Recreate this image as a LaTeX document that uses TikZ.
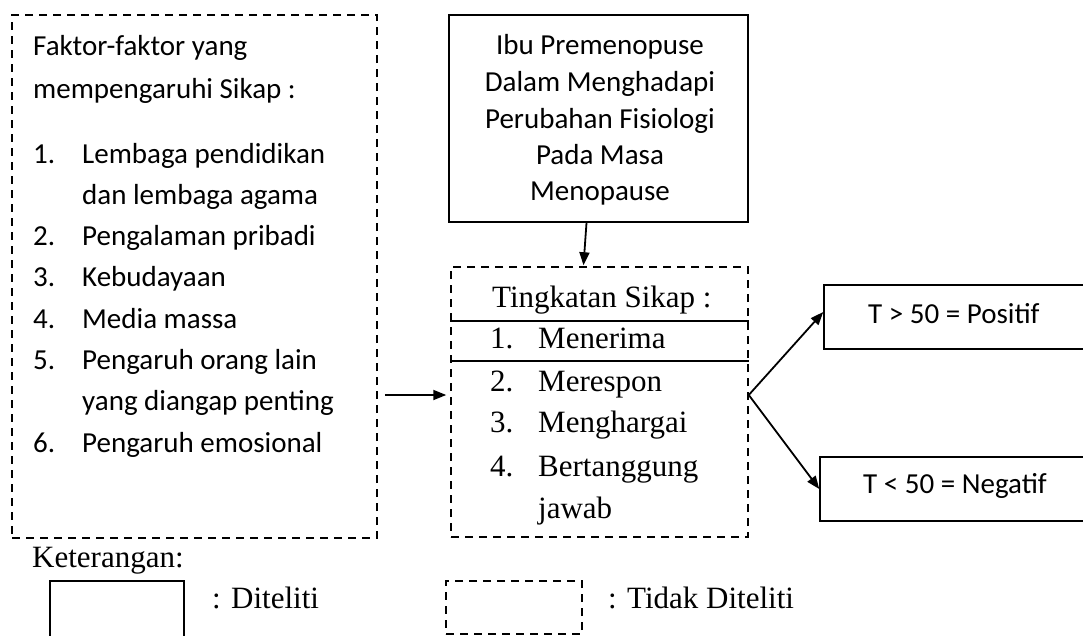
\documentclass[tikz,border=0pt]{standalone}
\usepackage{fontspec}
\newfontfamily\fcalib{Carlito}
\newfontfamily\ftimes{Liberation Serif}
\usetikzlibrary{arrows.meta,calc}
\begin{document}
\begin{tikzpicture}[x=1pt,y=-1pt,
  solidbox/.style={draw,line width=1.5pt,rectangle,inner sep=0pt},
  dashbox/.style={draw,line width=1.5pt,rectangle,inner sep=0pt,dash pattern=on 8pt off 6pt},
  ct/.style={inner sep=0pt,anchor=base west,font=\fcalib\fontsize{29}{36}\selectfont},
  ctc/.style={inner sep=0pt,anchor=base,font=\fcalib\fontsize{29}{36}\selectfont},
  tt/.style={inner sep=0pt,anchor=base west,font=\ftimes\fontsize{31}{40}\selectfont},
  arr/.style={line width=1.8pt,-{Triangle[length=13pt,width=10pt]}}]
\clip (0,0) rectangle (1083,635);
\fill[white] (0,0) rectangle (1083,635);
% boxes
\node[dashbox,minimum width=365pt,minimum height=523pt] (left) at (194.5,276.5) {};
\node[solidbox,minimum width=299pt,minimum height=207pt] (top) at (598.5,118.5) {};
\node[dashbox,minimum width=297pt,minimum height=270pt] (mid) at (599.5,402) {};
\node[solidbox,minimum width=280pt,minimum height=64pt] (pos) at (964,317) {};
\node[solidbox,minimum width=284pt,minimum height=64pt] (neg) at (962,489) {};
% lines in middle box
\draw[line width=1.3pt] (mid.west |- 0,321) coordinate (l1a) -- (mid.east |- l1a);
\draw[line width=1.3pt] (mid.west |- 0,361) coordinate (l2a) -- (mid.east |- l2a);
% left box text
\node[ct] (f1) at (33,55) {Faktor-faktor yang};
\node[ct] (f2) at (33,98) {mempengaruhi Sikap :};
\node[ct] (n1) at (33,163) {1.};
\node[ct] (t1) at (82,163) {Lembaga pendidikan};
\node[ct] (t1b) at (82,204.3) {dan lembaga agama};
\node[ct] (n2) at (33,245.6) {2.};
\node[ct] (t2) at (82,245.6) {Pengalaman pribadi};
\node[ct] (n3) at (33,286.9) {3.};
\node[ct] (t3) at (82,286.9) {Kebudayaan};
\node[ct] (n4) at (33,328.2) {4.};
\node[ct] (t4) at (82,328.2) {Media massa};
\node[ct] (n5) at (33,369.5) {5.};
\node[ct] (t5) at (82,369.5) {Pengaruh orang lain};
\node[ct] (t5b) at (82,410.8) {yang diangap penting};
\node[ct] (n6) at (33,452.1) {6.};
\node[ct] (t6) at (82,452.1) {Pengaruh emosional};
% top box text
\node[ctc] (p1) at (600,54) {Ibu Premenopuse};
\node[ctc] (p2) at (600,91) {Dalam Menghadapi};
\node[ctc] (p3) at (600,128) {Perubahan Fisiologi};
\node[ctc] (p4) at (600,164) {Pada Masa};
\node[ctc] (p5) at (600,200) {Menopause};
% middle box text
\node[tt] (m0) at (492,307) {Tingkatan Sikap :};
\node[tt] (mn1) at (490,348) {1.};
\node[tt] (m1) at (538,348) {Menerima};
\node[tt] (mn2) at (490,391) {2.};
\node[tt] (m2) at (538,391) {Merespon};
\node[tt] (mn3) at (490,432) {3.};
\node[tt] (m3) at (538,432) {Menghargai};
\node[tt] (mn4) at (490,476) {4.};
\node[tt] (m4) at (538,476) {Bertanggung};
\node[tt] (m4b) at (538,518) {jawab};
% right box text
\node[ct] (pt) at (868,323) {T > 50 = Positif};
\node[ct] (nt) at (863,493) {T < 50 = Negatif};
% connectors
\draw[arr] ([xshift=-12pt]top.south) -- ([xshift=-16pt,yshift=1pt]mid.north);
\coordinate (mw) at ([yshift=7pt]mid.west);
\path (left.east |- mw) coordinate (ls);
\draw[arr] ([xshift=7pt]ls) -- ([xshift=-4pt]mw);
\coordinate (me) at ([yshift=7pt]mid.east);
\draw[arr] (me) -- ([yshift=5pt]pos.west);
\draw[arr] (me) -- (neg.west);
% legend
\node[tt] (ket) at (32,567) {Keterangan:};
\node[solidbox,minimum width=134pt,minimum height=62pt] (lg1) at (117,612) {};
\node[tt] (lg1t) at (212,608) {: Diteliti};
\node[dashbox,minimum width=136pt,minimum height=53pt] (lg2) at (514,607.5) {};
\node[tt] (lg2t) at (608,608) {: Tidak Diteliti};
\end{tikzpicture}
\end{document}
